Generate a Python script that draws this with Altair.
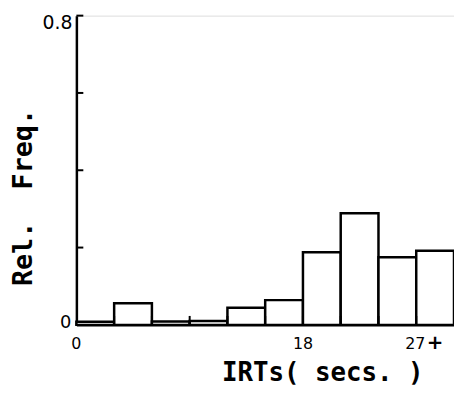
import altair as alt
import pandas as pd

# Histogram bins (seconds) and relative frequencies
bin_start = [0, 3, 6, 9, 12, 15, 18, 21, 24, 27]
bin_end = [3, 6, 9, 12, 15, 18, 21, 24, 27, 30]
rel_freq = [0.008, 0.056, 0.009, 0.010, 0.044, 0.064, 0.188, 0.289, 0.175, 0.192]

y_tick_values = [0.2, 0.4, 0.6, 0.8]
x_tick_values = [3, 6, 9, 12, 15, 18, 21, 24, 27]
x_label_values = [0, 18]
x_label_texts = ["0", "18"]
x_27_value = [27]
x_27_text = ["27"]
x_plus_text = ["+"]
y_label_top = [0.8]
y_label_top_text = ["0.8"]
y_label_zero = [0]
y_label_zero_text = ["0"]

bars_df = pd.DataFrame({"start": bin_start, "end": bin_end, "freq": rel_freq})
ytick_df = pd.DataFrame({"v": y_tick_values})
xtick_df = pd.DataFrame({"v": x_tick_values})
xlab_df = pd.DataFrame({"v": x_label_values, "t": x_label_texts})
x27_df = pd.DataFrame({"v": x_27_value, "t": x_27_text})
xplus_df = pd.DataFrame({"v": x_27_value, "t": x_plus_text})
ytop_df = pd.DataFrame({"v": y_label_top, "t": y_label_top_text})
yzero_df = pd.DataFrame({"v": y_label_zero, "t": y_label_zero_text})

xscale = alt.Scale(domain=[0, 30], nice=False, zero=False)
yscale = alt.Scale(domain=[0, 0.8], nice=False)

title_font = "DejaVu Sans Mono"
num_font = "DejaVu Sans"

bars = alt.Chart(bars_df).mark_rect(
    fill="white", stroke="black", strokeWidth=2.5
).encode(
    x=alt.X("start:Q", scale=xscale,
            axis=alt.Axis(title="IRTs( secs. )", labels=False, ticks=False, grid=False,
                          domainColor="black", domainWidth=2.5,
                          titleFont=title_font, titleFontSize=26, titleFontWeight="bold",
                          titleColor="black", titleX=248, titleY=56,
                          titleAnchor="middle", titleAlign="center", titleBaseline="alphabetic")),
    x2="end:Q",
    y=alt.Y("freq:Q", scale=yscale,
            axis=alt.Axis(title="Rel.\u00a0\u00a0Freq.", labels=False, ticks=False, grid=False,
                          domainColor="black", domainWidth=2.5,
                          titleFont=title_font, titleFontSize=27, titleFontWeight="bold",
                          titleColor="black", titleX=-53, titleY=183,
                          titleAnchor="middle", titleAlign="center", titleBaseline="middle")),
    y2=alt.datum(0),
)

yticks = alt.Chart(ytick_df).mark_rule(color="black", strokeWidth=2).encode(
    y=alt.Y("v:Q", scale=yscale), x=alt.value(0), x2=alt.value(7)
)

xticks = alt.Chart(xtick_df).mark_rule(color="black", strokeWidth=2).encode(
    x=alt.X("v:Q", scale=xscale), y=alt.value(312), y2=alt.value(303)
)

xlabels = alt.Chart(xlab_df).mark_text(
    font=num_font, fontSize=16, baseline="middle", align="center", color="black"
).encode(x=alt.X("v:Q", scale=xscale), y=alt.value(331), text="t:N")

x27 = alt.Chart(x27_df).mark_text(
    font=num_font, fontSize=16, baseline="middle", align="center", dx=-1, color="black"
).encode(x=alt.X("v:Q", scale=xscale), y=alt.value(331), text="t:N")

xplus = alt.Chart(xplus_df).mark_text(
    font=num_font, fontSize=20, fontWeight="bold", baseline="middle", align="center", dx=19, dy=-1,
    color="black"
).encode(x=alt.X("v:Q", scale=xscale), y=alt.value(331), text="t:N")

ytop = alt.Chart(ytop_df).mark_text(
    font=num_font, fontSize=19, baseline="top", align="right", dx=-4, dy=-2, color="black"
).encode(y=alt.Y("v:Q", scale=yscale), x=alt.value(0), text="t:N")

yzero = alt.Chart(yzero_df).mark_text(
    font=num_font, fontSize=18, baseline="middle", align="right", dx=-5, dy=-2, color="black"
).encode(y=alt.Y("v:Q", scale=yscale), x=alt.value(0), text="t:N")

chart = alt.layer(bars, yticks, xticks, xlabels, x27, xplus, ytop, yzero).properties(
    width=381, height=312,
    autosize=alt.AutoSizeParams(type="none"),
    padding={"left": 69, "top": 6, "right": 0, "bottom": 63},
).configure_view(stroke=None).configure(background="white")

chart.save("out.html", embed_options={"renderer": "svg", "actions": False})
